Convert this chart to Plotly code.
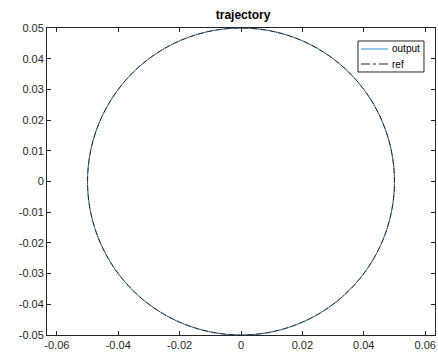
import plotly.graph_objects as go

# Reference trajectory: a circle of radius 0.05 sampled every 10 degrees
ref_x = [0.05, 0.04924, 0.04698, 0.0433, 0.0383, 0.03214, 0.025, 0.0171, 0.00868,
         0.0, -0.00868, -0.0171, -0.025, -0.03214, -0.0383, -0.0433, -0.04698, -0.04924,
         -0.05, -0.04924, -0.04698, -0.0433, -0.0383, -0.03214, -0.025, -0.0171, -0.00868,
         0.0, 0.00868, 0.0171, 0.025, 0.03214, 0.0383, 0.0433, 0.04698, 0.04924, 0.05]
ref_y = [0.0, 0.00868, 0.0171, 0.025, 0.03214, 0.0383, 0.0433, 0.04698, 0.04924,
         0.05, 0.04924, 0.04698, 0.0433, 0.0383, 0.03214, 0.025, 0.0171, 0.00868,
         0.0, -0.00868, -0.0171, -0.025, -0.03214, -0.0383, -0.0433, -0.04698, -0.04924,
         -0.05, -0.04924, -0.04698, -0.0433, -0.0383, -0.03214, -0.025, -0.0171, -0.00868, 0.0]

# Tracked output (follows the reference)
out_x = list(ref_x)
out_y = list(ref_y)

series_names = ["output", "ref"]
series_colors = ["#4da6dd", "#262626"]
series_dash = ["solid", "6px,1px,1px,1px"]

x_ticks = [-0.06, -0.04, -0.02, 0, 0.02, 0.04, 0.06]
x_labels = ["-0.06", "-0.04", "-0.02", "0", "0.02", "0.04", "0.06"]
y_ticks = [-0.05, -0.04, -0.03, -0.02, -0.01, 0, 0.01, 0.02, 0.03, 0.04, 0.05]
y_labels = ["-0.05", "-0.04", "-0.03", "-0.02", "-0.01", "0",
            "0.01", "0.02", "0.03", "0.04", "0.05"]

FONT = "Liberation Sans, Arial, sans-serif"

fig = go.Figure()
for xs, ys, name, col, dash in zip([out_x, ref_x], [out_y, ref_y],
                                   series_names, series_colors, series_dash):
    fig.add_trace(go.Scatter(
        x=xs, y=ys, mode="lines", name=name, showlegend=False,
        line=dict(color=col, width=1, dash=dash, shape="spline", smoothing=1.0),
    ))

# Legend box drawn in paper coordinates
shapes = [dict(type="rect", xref="paper", yref="paper",
               x0=0.8015, x1=0.9716, y0=0.8567, y1=0.9577,
               line=dict(color="#262626", width=1), fillcolor="white", layer="above")]
annotations = []
legend_rows = [0.9316, 0.8827]
legend_dash = ["solid", "dashdot"]
for name, col, dash, yy in zip(series_names, series_colors, legend_dash, legend_rows):
    shapes.append(dict(type="line", xref="paper", yref="paper",
                       x0=0.8093, x1=0.8789, y0=yy, y1=yy,
                       line=dict(color=col, width=1.2 if dash == "solid" else 1, dash=dash),
                       layer="above"))
    annotations.append(dict(xref="paper", yref="paper", x=0.8840, y=yy,
                            xanchor="left", yanchor="middle", showarrow=False,
                            text=name, font=dict(family=FONT, size=10, color="black")))

axis_style = dict(
    showline=True, linecolor="#262626", linewidth=1, mirror="ticks",
    ticks="inside", ticklen=4, tickcolor="#262626", tickwidth=1,
    showgrid=False, zeroline=False,
    tickfont=dict(family=FONT, size=11, color="#262626"),
)

fig.update_layout(
    width=438, height=356,
    margin=dict(l=47, r=3, t=28, b=21),
    paper_bgcolor="white", plot_bgcolor="white",
    title=dict(text="<b>trajectory</b>", x=0.555, xanchor="center",
               y=1 - 15 / 356, yanchor="middle",
               font=dict(family=FONT, size=12, color="black")),
    xaxis=dict(range=[-0.0632, 0.0632], tickvals=x_ticks, ticktext=x_labels, **axis_style),
    yaxis=dict(range=[-0.05, 0.05], tickvals=y_ticks, ticktext=y_labels, **axis_style),
    shapes=shapes, annotations=annotations,
    showlegend=False,
)

fig.write_html("out.html")
